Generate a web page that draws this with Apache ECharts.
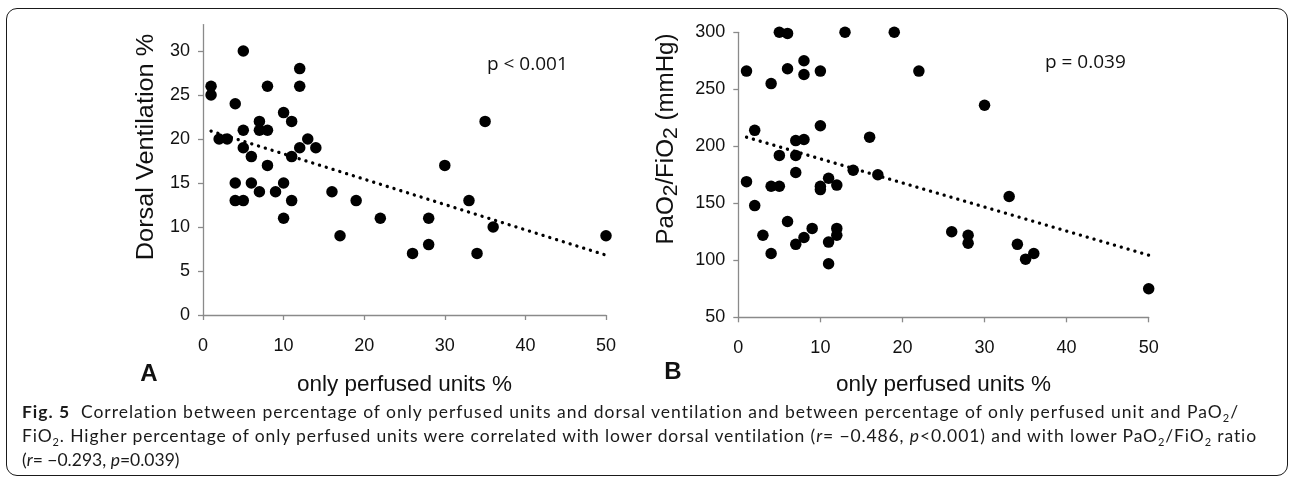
<!DOCTYPE html>
<html>
<head>
<meta charset="utf-8">
<script src="https://cdn.jsdelivr.net/npm/echarts@6/dist/echarts.min.js"></script>
<style>
  html, body { margin:0; padding:0; background:#fff; }
  #wrap { position:relative; width:1290px; height:477px; overflow:hidden; }
  #chart { position:absolute; left:0; top:0; width:1290px; height:477px; }
  #frame { position:absolute; left:6px; top:8px; width:1282px; height:468px; border:1.4px solid #1a1a1a; border-radius:11px; box-sizing:border-box; pointer-events:none; }
  .cap { position:absolute; left:22px; font-family:Lato, "Noto Sans", sans-serif; font-size:17.5px; line-height:24px; color:#1a1a1a; white-space:nowrap; }
  .cap sub { font-size:11px; line-height:0; vertical-align:-4px; }
  .cap b { font-weight:700; }
</style>
</head>
<body>
<div id="wrap">
  <div id="chart"></div>
  <div id="frame"></div>
  <div class="cap" id="l1" data-w="1217" style="top:400px"><b>Fig. 5</b>&nbsp; Correlation between percentage of only perfused units and dorsal ventilation and between percentage of only perfused unit and PaO<sub>2</sub>/</div>
  <div class="cap" id="l2" data-w="1235" style="top:424px">FiO<sub>2</sub>. Higher percentage of only perfused units were correlated with lower dorsal ventilation (<i>r</i>= −0.486, <i>p</i>&lt;0.001) and with lower PaO<sub>2</sub>/FiO<sub>2</sub> ratio</div>
  <div class="cap" id="l3" style="top:448px">(<i>r</i>= −0.293, <i>p</i>=0.039)</div>
</div>
<script>
// ---- data ----
const xTicks = [0, 10, 20, 30, 40, 50];
const leftYTicks = [0, 5, 10, 15, 20, 25, 30];
const rightYTicks = [50, 100, 150, 200, 250, 300];

const leftX = [1,1,2,3,4,5,5,5,4,4,5,6,6,7,7,7,8,8,8,9,10,10,10,11,11,11,12,12,12,13,14,16,17,19,22,26,28,28,30,33,34,35,36,50];
const leftY = [26,25,20,20,24,30,21,19,15,13,13,18,15,22,21,14,26,21,17,14,23,15,11,22,18,13,28,26,19,20,19,14,9,13,11,7,11,8,17,13,7,22,10,9];

const rightX = [1,1,2,2,3,4,4,4,5,5,5,6,6,6,7,7,7,7,8,8,8,8,9,10,10,10,10,11,11,11,12,12,12,13,14,16,17,19,22,26,28,28,30,33,34,35,36,50];
const rightY = [266,169,214,148,122,255,165,106,300,192,165,299,268,134,205,192,177,114,275,263,206,120,128,266,218,165,162,172,116,97,166,128,122,300,179,208,175,300,266,125,122,115,236,156,114,101,106,75];

const trendX = [1, 50];
const leftTrendY = [20.9, 6.8];
const rightTrendY = [208, 104.5];

const leftYTitle = 'Dorsal Ventilation %';
const xTitle = 'only perfused units %';
const leftP = 'p < 0.001';
const rightP = 'p = 0.039';

// ---- chart ----
const chart = echarts.init(document.getElementById('chart'), null, {renderer:'canvas'});
const AX = '#8a8a8a';
const FONT = '"Liberation Sans", Arial, sans-serif';

function xAxisCfg(g, gap) {
  return {
    gridIndex: g, type: 'value', min: xTicks[0], max: xTicks[xTicks.length-1], interval: xTicks[1]-xTicks[0],
    axisLine: {show:true, onZero:false, lineStyle:{color:AX, width:1.3}},
    axisTick: {show:true, length:5, lineStyle:{color:AX, width:1.3}},
    splitLine: {show:false},
    axisLabel: {fontSize:18, color:'#111', margin:22, fontFamily:FONT},
    name: xTitle, nameLocation:'middle', nameGap: gap,
    nameTextStyle: {fontSize:22.5, color:'#111', fontFamily:FONT}
  };
}

const option = {
  animation: false,
  grid: [
    {left:203, top:24.6, width:403, height:290.4},
    {left:738.3, top:32.3, width:410.4, height:285}
  ],
  xAxis: [xAxisCfg(0, 58), xAxisCfg(1, 56)],
  yAxis: [
    {
      gridIndex:0, type:'value', min:0, max:33,
      axisLine:{show:true, onZero:false, lineStyle:{color:AX, width:1.3}},
      axisTick:{show:true, length:5, customValues: leftYTicks, lineStyle:{color:AX, width:1.3}},
      splitLine:{show:false},
      axisLabel:{fontSize:18, color:'#111', margin:13, fontFamily:FONT, customValues: leftYTicks}
    },
    {
      gridIndex:1, type:'value', min:rightYTicks[0], max:rightYTicks[rightYTicks.length-1], interval:rightYTicks[1]-rightYTicks[0],
      axisLine:{show:true, onZero:false, lineStyle:{color:AX, width:1.3}},
      axisTick:{show:true, length:5, lineStyle:{color:AX, width:1.3}},
      splitLine:{show:false},
      axisLabel:{fontSize:18, color:'#111', margin:13, fontFamily:FONT}
    }
  ],
  series: [
    {
      type:'scatter', xAxisIndex:0, yAxisIndex:0, symbolSize:11.5,
      itemStyle:{color:'#000', opacity:1},
      data: leftX.map((x,i)=>[x, leftY[i]])
    },
    {
      type:'line', xAxisIndex:0, yAxisIndex:0, showSymbol:false, symbol:'none',
      lineStyle:{color:'#000', width:3.3, type:[0.1, 7], cap:'round'},
      data: trendX.map((x,i)=>[x, leftTrendY[i]]), z:3
    },
    {
      type:'scatter', xAxisIndex:1, yAxisIndex:1, symbolSize:11.5,
      itemStyle:{color:'#000', opacity:1},
      data: rightX.map((x,i)=>[x, rightY[i]])
    },
    {
      type:'line', xAxisIndex:1, yAxisIndex:1, showSymbol:false, symbol:'none',
      lineStyle:{color:'#000', width:3.3, type:[0.1, 7], cap:'round'},
      data: trendX.map((x,i)=>[x, rightTrendY[i]]), z:3
    }
  ],
  graphic: [
    {
      type:'text', x:147, y:147, rotation:Math.PI/2, scaleX:1.1,
      style:{text:leftYTitle, font:'23px ' + FONT, fill:'#111', align:'center', verticalAlign:'middle'}
    },
    {
      type:'text', x:667, y:139, rotation:Math.PI/2, scaleX:1.05,
      style:{
        text:'PaO{s|2}/FiO{s|2} (mmHg)', font:'23px ' + FONT, fill:'#111', align:'center', verticalAlign:'middle',
        lineHeight:28,
        rich:{ s:{fontSize:20, fontFamily:FONT, fill:'#111', lineHeight:20, verticalAlign:'bottom'} }
      }
    },
    {
      type:'text', x:149, y:374,
      style:{text:'A', font:'bold 24px ' + FONT, fill:'#111', align:'center', verticalAlign:'middle'}
    },
    {
      type:'text', x:673, y:372,
      style:{text:'B', font:'bold 24px ' + FONT, fill:'#111', align:'center', verticalAlign:'middle'}
    },
    {
      type:'text', x:487, y:65,
      style:{text:leftP, font:'19px "Open Sans", "Noto Sans", sans-serif', fill:'#111', align:'left', verticalAlign:'middle'}
    },
    {
      type:'text', x:1045, y:63,
      style:{text:rightP, font:'19px "Open Sans", "Noto Sans", sans-serif', fill:'#111', align:'left', verticalAlign:'middle'}
    }
  ]
};
chart.setOption(option);

// fit caption lines to the reference widths via letter-spacing
['l1','l2'].forEach(id => {
  const el = document.getElementById(id);
  const target = parseFloat(el.dataset.w);
  const natural = el.getBoundingClientRect().width;
  const n = el.textContent.length - 1;
  if (n > 0) el.style.letterSpacing = ((target - natural) / n) + 'px';
});
</script>
</body>
</html>
